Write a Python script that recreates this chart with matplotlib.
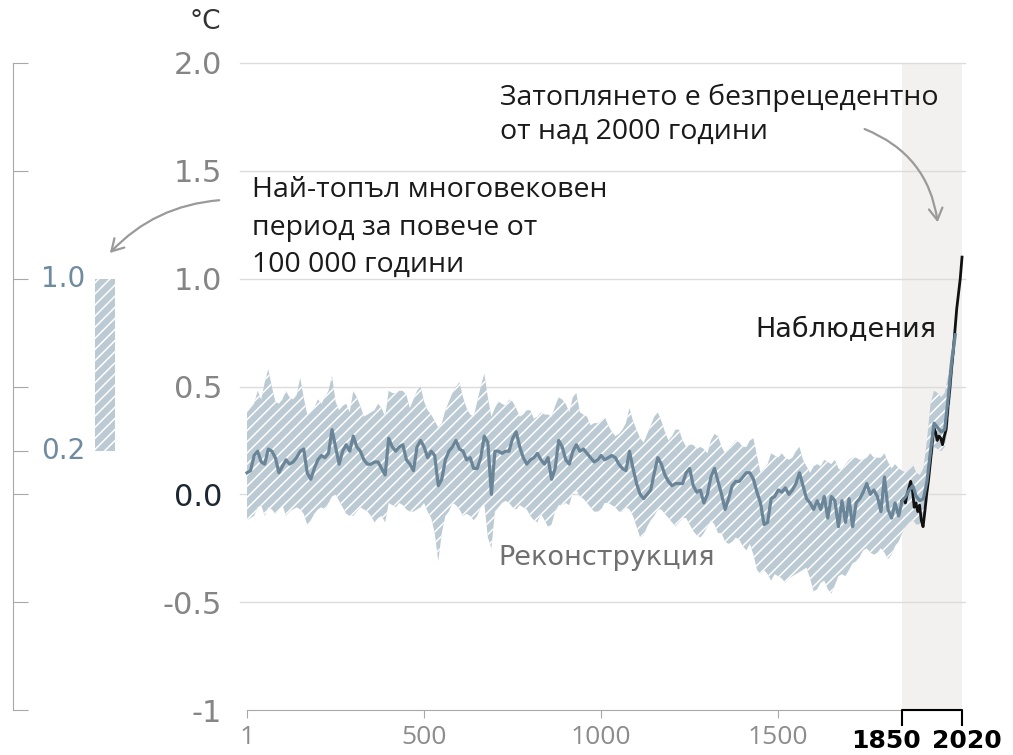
import numpy as np
import matplotlib.pyplot as plt
from matplotlib.patches import FancyArrowPatch

plt.rcParams['hatch.linewidth'] = 1.1
plt.rcParams['hatch.color'] = 'white'

# Реконструкция (десетилетни стойности, 1 ... 2001 г.)
recon_years = np.arange(1, 2002, 10)
recon_median = [
    0.10, 0.11, 0.18, 0.20, 0.15, 0.14, 0.21, 0.20, 0.17, 0.10,
    0.13, 0.16, 0.14, 0.15, 0.17, 0.20, 0.21, 0.10, 0.07, 0.12,
    0.16, 0.18, 0.17, 0.19, 0.30, 0.22, 0.14, 0.20, 0.23, 0.20,
    0.27, 0.22, 0.20, 0.16, 0.14, 0.14, 0.15, 0.15, 0.12, 0.09,
    0.26, 0.22, 0.20, 0.22, 0.23, 0.16, 0.14, 0.11, 0.22, 0.25,
    0.22, 0.17, 0.20, 0.18, 0.04, 0.07, 0.16, 0.20, 0.22, 0.25,
    0.21, 0.20, 0.16, 0.17, 0.12, 0.12, 0.17, 0.27, 0.24, 0.00,
    0.20, 0.20, 0.19, 0.20, 0.20, 0.26, 0.29, 0.22, 0.17, 0.14,
    0.16, 0.17, 0.19, 0.16, 0.14, 0.17, 0.07, 0.12, 0.25, 0.22,
    0.16, 0.14, 0.20, 0.23, 0.20, 0.21, 0.19, 0.17, 0.15, 0.16,
    0.18, 0.16, 0.17, 0.18, 0.17, 0.14, 0.12, 0.11, 0.20, 0.12,
    0.05, 0.00, -0.02, 0.00, 0.02, 0.10, 0.17, 0.14, 0.09, 0.06,
    0.04, 0.05, 0.05, 0.05, 0.10, 0.12, 0.04, 0.01, 0.02, -0.04,
    0.00, 0.08, 0.12, 0.06, 0.00, -0.07, -0.02, 0.04, 0.06, 0.06,
    0.08, 0.10, 0.10, 0.07, 0.01, -0.04, -0.14, -0.13, -0.02, -0.01,
    0.02, 0.01, 0.03, 0.00, 0.02, 0.05, 0.10, 0.04, -0.02, -0.04,
    -0.07, -0.03, -0.07, -0.01, -0.11, -0.01, -0.03, -0.15, -0.03, -0.13,
    -0.02, -0.15, -0.04, -0.02, 0.01, 0.05, 0.00, 0.02, -0.01, -0.08,
    0.08, -0.07, -0.11, -0.04, -0.10, -0.03, -0.01, 0.02, 0.04, -0.01,
    -0.03, -0.02, 0.06, 0.20, 0.33, 0.31, 0.29, 0.30, 0.45, 0.62,
    0.74,
]
recon_upper = [
    0.38, 0.40, 0.42, 0.48, 0.44, 0.52, 0.58, 0.50, 0.43, 0.42,
    0.44, 0.48, 0.45, 0.44, 0.46, 0.54, 0.45, 0.37, 0.38, 0.40,
    0.44, 0.42, 0.45, 0.48, 0.55, 0.43, 0.39, 0.41, 0.42, 0.38,
    0.48, 0.45, 0.41, 0.36, 0.37, 0.38, 0.39, 0.42, 0.40, 0.36,
    0.48, 0.47, 0.47, 0.48, 0.48, 0.46, 0.40, 0.44, 0.48, 0.50,
    0.43, 0.39, 0.37, 0.34, 0.31, 0.33, 0.39, 0.43, 0.47, 0.50,
    0.52, 0.45, 0.40, 0.37, 0.36, 0.43, 0.50, 0.56, 0.45, 0.36,
    0.40, 0.43, 0.42, 0.41, 0.44, 0.43, 0.40, 0.36, 0.37, 0.39,
    0.39, 0.35, 0.36, 0.38, 0.37, 0.37, 0.36, 0.41, 0.45, 0.44,
    0.42, 0.38, 0.45, 0.47, 0.38, 0.37, 0.36, 0.32, 0.33, 0.33,
    0.34, 0.36, 0.32, 0.29, 0.27, 0.28, 0.30, 0.33, 0.40, 0.34,
    0.30, 0.26, 0.24, 0.28, 0.32, 0.36, 0.38, 0.34, 0.29, 0.25,
    0.27, 0.30, 0.30, 0.25, 0.22, 0.23, 0.23, 0.21, 0.22, 0.21,
    0.19, 0.25, 0.28, 0.27, 0.22, 0.19, 0.21, 0.23, 0.25, 0.24,
    0.22, 0.22, 0.25, 0.26, 0.18, 0.10, 0.12, 0.14, 0.19, 0.18,
    0.17, 0.19, 0.17, 0.16, 0.17, 0.20, 0.22, 0.16, 0.13, 0.10,
    0.13, 0.14, 0.13, 0.16, 0.15, 0.14, 0.16, 0.12, 0.11, 0.14,
    0.16, 0.17, 0.17, 0.16, 0.16, 0.17, 0.19, 0.17, 0.17, 0.17,
    0.19, 0.15, 0.12, 0.14, 0.12, 0.11, 0.10, 0.12, 0.14, 0.10,
    0.09, 0.12, 0.25, 0.42, 0.48, 0.47, 0.45, 0.47, 0.55, 0.68,
    0.80,
]
recon_lower = [
    -0.12, -0.11, -0.10, -0.06, -0.05, -0.10, -0.06, -0.07, -0.09, -0.07,
    -0.05, -0.10, -0.08, -0.07, -0.06, -0.07, -0.09, -0.14, -0.12, -0.09,
    -0.07, -0.06, -0.07, -0.04, -0.01, 0.00, -0.03, -0.06, -0.09, -0.10,
    -0.10, -0.08, -0.06, -0.07, -0.08, -0.10, -0.13, -0.11, -0.10, -0.13,
    -0.04, -0.05, -0.06, -0.04, -0.05, -0.07, -0.08, -0.08, -0.07, -0.06,
    -0.04, -0.08, -0.11, -0.18, -0.31, -0.18, -0.10, -0.08, -0.04, -0.05,
    -0.07, -0.10, -0.09, -0.10, -0.12, -0.10, -0.06, -0.04, -0.20, -0.25,
    -0.08, -0.06, -0.04, -0.03, -0.04, -0.06, -0.07, -0.05, -0.06, -0.07,
    -0.10, -0.12, -0.13, -0.09, -0.12, -0.15, -0.14, -0.08, -0.05, -0.05,
    -0.04, -0.05, 0.01, 0.02, -0.01, -0.02, -0.04, -0.06, -0.08, -0.08,
    -0.07, -0.04, -0.04, -0.05, -0.06, -0.08, -0.08, -0.06, -0.07, -0.10,
    -0.15, -0.20, -0.19, -0.15, -0.12, -0.10, -0.07, -0.07, -0.09, -0.11,
    -0.13, -0.15, -0.13, -0.11, -0.11, -0.14, -0.17, -0.19, -0.20, -0.18,
    -0.15, -0.12, -0.14, -0.18, -0.18, -0.22, -0.23, -0.22, -0.20, -0.21,
    -0.24, -0.26, -0.23, -0.28, -0.35, -0.37, -0.35, -0.37, -0.40, -0.37,
    -0.38, -0.39, -0.41, -0.39, -0.38, -0.37, -0.36, -0.35, -0.34, -0.39,
    -0.45, -0.44, -0.41, -0.40, -0.44, -0.46, -0.42, -0.38, -0.37, -0.38,
    -0.35, -0.32, -0.31, -0.29, -0.26, -0.25, -0.27, -0.28, -0.27, -0.25,
    -0.27, -0.30, -0.28, -0.24, -0.22, -0.18, -0.15, -0.13, -0.12, -0.14,
    -0.14, -0.12, -0.05, 0.12, 0.22, 0.21, 0.20, 0.22, 0.32, 0.50,
    0.68,
]

# Наблюдения 1850-2020
obs_years = np.arange(1850, 2021, 5)
obs_vals = [
    -0.03, -0.02, -0.04, 0.00, 0.03, 0.06, 0.02, -0.06, -0.04, -0.08,
    -0.05, -0.12, -0.15, -0.08, 0.00, 0.06, 0.14, 0.22, 0.31, 0.29,
    0.25, 0.27, 0.26, 0.23, 0.27, 0.30, 0.40, 0.48, 0.58, 0.66,
    0.76, 0.86, 0.93, 1.00, 1.10,
]

# Най-топлият многовековен период (диапазон)
warm_range = [0.2, 1.0]

xticks = [1, 500, 1000, 1500]
bracket_years = [1850, 2020]
yticks = [-1, -0.5, 0, 0.5, 1.0, 1.5, 2.0]
ytick_labels = ['-1', '-0.5', '0.0', '0.5', '1.0', '1.5', '2.0']
left_ticks = [2.0, 1.5, 1.0, 0.5, 0.2, 0.0, -0.5, -1]

band_face = '#bccad4'
line_col = '#6a8598'
grid_col = '#dcdcdc'
sans = ['Open Sans', 'DejaVu Sans']

W, H = 1013, 755
fig = plt.figure(figsize=(W / 100, H / 100), dpi=100)

# основна графика
ax = fig.add_axes([240.3 / W, 45 / H, 724.2 / W, 647 / H])
ax.set_xlim(-18, 2027)
ax.set_ylim(-1, 2)

ax.axvspan(bracket_years[0], bracket_years[1], color='#f3f1ef', zorder=0, lw=0)
for y in yticks[1:]:
    ax.axhline(y, color=grid_col, lw=1, zorder=0.5, clip_on=False)

ax.fill_between(recon_years, recon_lower, recon_upper, facecolor=band_face,
                edgecolor='white', hatch='///', linewidth=0, zorder=1)
ax.plot(obs_years, obs_vals, color='#111111', lw=2, zorder=2)
ax.plot(recon_years, recon_median, color=line_col, lw=2.3, zorder=3)

for s in ['top', 'right', 'left']:
    ax.spines[s].set_visible(False)
ax.spines['bottom'].set_bounds(xticks[0], bracket_years[1])
ax.spines['bottom'].set_color('#a8a8a8')

ax.set_xticks(xticks)
ax.set_xticklabels([str(t) for t in xticks])
ax.tick_params(axis='x', length=6, color='#a8a8a8', pad=5, labelsize=19,
               labelcolor='#8c8c8c')
for lab in ax.get_xticklabels():
    lab.set_family(sans)

# скоба 1850-2020
ax.plot([bracket_years[0], bracket_years[0], bracket_years[1], bracket_years[1]],
        [-1.075, -1, -1, -1.075], color='black', lw=1.5, clip_on=False,
        solid_capstyle='butt', zorder=5)
for yr, dx in zip(bracket_years, [-16, 5]):
    ax.annotate(str(yr), xy=(yr, -1), xycoords='data', xytext=(dx, -31),
                textcoords='offset pixels', ha='center', va='center',
                fontsize=18, fontweight='bold', color='black',
                annotation_clip=False)

ax.set_yticks(yticks)
ax.set_yticklabels(ytick_labels)
ax.tick_params(axis='y', length=0, pad=13, labelsize=22, labelcolor='#858585')
ax.get_yticklabels()[2].set_color('#1c2733')

fig.text(205 / W, 1 - 22 / H, '°C', fontsize=19, color='#333333',
         ha='center', va='center')

# лява скала
ax2 = fig.add_axes([13 / W, 45 / H, 110 / W, 647 / H])
ax2.set_xlim(0, 1)
ax2.set_ylim(-1, 2)
for s in ['top', 'right', 'bottom']:
    ax2.spines[s].set_visible(False)
ax2.spines['left'].set_color('#a8a8a8')
ax2.set_xticks([])
ax2.set_yticks(left_ticks)
ax2.set_yticklabels([])
ax2.tick_params(axis='y', direction='in', length=11, color='#a8a8a8')
ax2.bar(0.836, warm_range[1] - warm_range[0], bottom=warm_range[0],
        width=0.18, facecolor=band_face, edgecolor='white', hatch='///',
        linewidth=0)
for v in warm_range:
    ax2.text(0.66, v, f'{v:.1f}', ha='right', va='center', fontsize=20,
             color='#6f8ba0')

# надписи
txt = dict(fontsize=20.5, color='#1a1a1a', va='center', family=sans)
fig.text(500 / W, 1 - 98 / H, 'Затоплянето е безпрецедентно', **txt)
fig.text(500 / W, 1 - 132 / H, 'от над 2000 години', **txt)
fig.text(252 / W, 1 - 190 / H, 'Най-топъл многовековен', **txt)
fig.text(252 / W, 1 - 228 / H, 'период за повече от', **txt)
fig.text(252 / W, 1 - 265 / H, '100 000 години', **txt)

fig.text(755 / W, 1 - 330 / H, 'Наблюдения', fontsize=19.5, color='#1a1a1a',
         va='center')
fig.text(498 / W, 1 - 558 / H, 'Реконструкция', fontsize=19.5, color='#707070',
         va='center')

arrow = dict(arrowstyle='->,head_length=0.6,head_width=0.35', color='#9a9a9a',
             lw=1.6, mutation_scale=14, transform=fig.transFigure)
fig.add_artist(FancyArrowPatch((222 / W, 1 - 200 / H), (108 / W, 1 - 255 / H),
                               connectionstyle='arc3,rad=0.2', **arrow))
fig.add_artist(FancyArrowPatch((862 / W, 1 - 128 / H), (938 / W, 1 - 225 / H),
                               connectionstyle='arc3,rad=-0.3', **arrow))

fig.savefig('out.png', dpi=100)
